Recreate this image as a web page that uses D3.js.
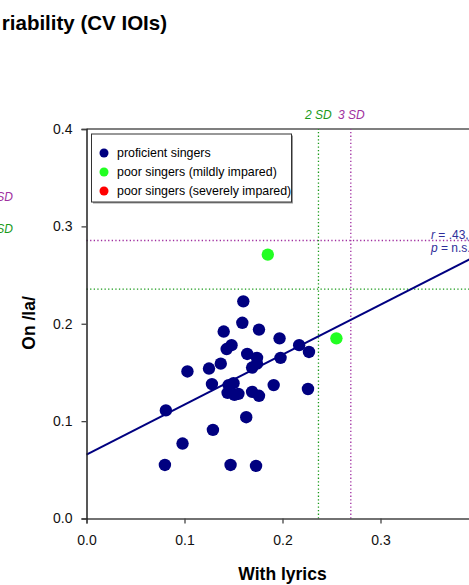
<!DOCTYPE html>
<html>
<head>
<meta charset="utf-8">
<script src="https://cdn.jsdelivr.net/npm/d3@7"></script>
<style>
    body { margin: 0; background: #fff; }
    svg { display: block; font-family: "Liberation Sans", Arial, sans-serif; }
</style>
</head>
<body>
<svg id="chart" width="469" height="585"></svg>
<script>
// proficient singers
const profX = [0.081, 0.080, 0.098, 0.103, 0.129, 0.125, 0.128, 0.137, 0.140, 0.143, 0.148, 0.145,
    0.150, 0.144, 0.151, 0.155, 0.147, 0.160, 0.159, 0.164, 0.163, 0.169, 0.176, 0.169, 0.174, 0.174,
    0.176, 0.173, 0.191, 0.197, 0.198, 0.217, 0.227, 0.226];
const profY = [0.111, 0.055, 0.077, 0.151, 0.091, 0.154, 0.138, 0.159, 0.192, 0.174, 0.178, 0.137,
    0.139, 0.129, 0.127, 0.128, 0.055, 0.223, 0.201, 0.169, 0.104, 0.130, 0.126, 0.155, 0.165, 0.159,
    0.194, 0.054, 0.137, 0.185, 0.165, 0.178, 0.171, 0.133];
// poor singers, mildly impared
const mildX = [0.185, 0.255];
const mildY = [0.271, 0.185];
// poor singers, severely impared (none shown in this panel)
const severeX = [];
const severeY = [];

const fitX = [0.0, 0.4];
const fitY = [0.0656, 0.2708];
const sd2 = { x: 0.2367, y: 0.2355 };
const sd3 = { x: 0.2697, y: 0.2855 };

const xTicks = [0.0, 0.1, 0.2, 0.3, 0.4];
const yTicks = [0.0, 0.1, 0.2, 0.3, 0.4];
const legendLabels = ['proficient singers', 'poor singers (mildly impared)', 'poor singers (severely impared)'];
const legendColors = ['#000080', '#22ff22', '#ff0000'];

const svg = d3.select('#chart');
const x = d3.scaleLinear().domain([0, 0.4]).range([86.5, 478.5]);
const y = d3.scaleLinear().domain([0, 0.4]).range([518.5, 129]);

const purple = '#a030a0';
const green = '#1a9a1a';

// title (cut off at left like the original)
svg.append('text')
    .attr('x', 167).attr('y', 30)
    .attr('text-anchor', 'end')
    .attr('font-size', 20.5).attr('font-weight', 'bold')
    .text('riability (CV IOIs)');

// top frame
svg.append('line')
    .attr('x1', x(0)).attr('x2', x(0.4))
    .attr('y1', y(0.4)).attr('y2', y(0.4))
    .attr('stroke', '#000').attr('stroke-width', 1.2);

// reference lines
function hline(v, color) {
    svg.append('line')
        .attr('x1', x(0)).attr('x2', x(0.4))
        .attr('y1', y(v)).attr('y2', y(v))
        .attr('stroke', color).attr('stroke-width', 1.3)
        .attr('stroke-dasharray', '1.3,2.3');
}
function vline(v, color) {
    svg.append('line')
        .attr('x1', x(v)).attr('x2', x(v))
        .attr('y1', y(0)).attr('y2', y(0.4))
        .attr('stroke', color).attr('stroke-width', 1.3)
        .attr('stroke-dasharray', '1.3,2.3');
}
hline(sd3.y, purple);
hline(sd2.y, green);
vline(sd2.x, green);
vline(sd3.x, purple);

// SD labels
svg.append('text').attr('x', 305).attr('y', 119).attr('font-size', 12).attr('font-style', 'italic')
    .attr('fill', green).text('2 SD');
svg.append('text').attr('x', 338).attr('y', 119).attr('font-size', 12).attr('font-style', 'italic')
    .attr('fill', purple).text('3 SD');
svg.append('text').attr('x', 13).attr('y', 201).attr('text-anchor', 'end').attr('font-size', 12)
    .attr('font-style', 'italic').attr('fill', purple).text('3 SD');
svg.append('text').attr('x', 13).attr('y', 232.5).attr('text-anchor', 'end').attr('font-size', 12)
    .attr('font-style', 'italic').attr('fill', green).text('2 SD');

// regression line
const line = d3.line().x(d => x(d[0])).y(d => y(d[1]));
svg.append('path')
    .datum(d3.zip(fitX, fitY))
    .attr('d', line)
    .attr('fill', 'none')
    .attr('stroke', '#000080')
    .attr('stroke-width', 2);

// points
function dots(xs, ys, color) {
    svg.append('g').selectAll('circle')
        .data(d3.zip(xs, ys))
        .join('circle')
        .attr('cx', d => x(d[0]))
        .attr('cy', d => y(d[1]))
        .attr('r', 6.2)
        .attr('fill', color);
}
dots(profX, profY, legendColors[0]);
dots(mildX, mildY, legendColors[1]);
dots(severeX, severeY, legendColors[2]);

// axes
const xAxis = svg.append('g')
    .attr('transform', `translate(0,${y(0)})`)
    .call(d3.axisBottom(x).tickValues(xTicks).tickFormat(d3.format('.1f')).tickSize(5).tickPadding(12));
xAxis.select('.domain').attr('stroke', '#444').attr('stroke-width', 1.5);
xAxis.selectAll('.tick line').attr('stroke', '#444').attr('stroke-width', 1.3);
xAxis.selectAll('text').attr('font-size', 14).attr('fill', '#111').attr('font-family', '"Liberation Sans", Arial, sans-serif');

const yAxis = svg.append('g')
    .attr('transform', `translate(${x(0)},0)`)
    .call(d3.axisLeft(y).tickValues(yTicks).tickFormat(d3.format('.1f')).tickSize(5).tickPadding(9));
yAxis.select('.domain').attr('stroke', '#222').attr('stroke-width', 1.5);
yAxis.selectAll('.tick line').attr('stroke', '#444').attr('stroke-width', 1.3);
yAxis.selectAll('text').attr('font-size', 14).attr('fill', '#111').attr('font-family', '"Liberation Sans", Arial, sans-serif');

// axis titles
svg.append('text')
    .attr('x', (x(0) + x(0.4)) / 2).attr('y', 580)
    .attr('text-anchor', 'middle')
    .attr('font-size', 17.5).attr('font-weight', 'bold')
    .text('With lyrics');
svg.append('text')
    .attr('transform', 'translate(35,323) rotate(-90)')
    .attr('text-anchor', 'middle')
    .attr('font-size', 17.5).attr('font-weight', 'bold')
    .text('On /la/');

// stats
const stat1 = svg.append('text').attr('x', 431).attr('y', 239).attr('font-size', 12).attr('fill', '#2e2e9a');
stat1.append('tspan').attr('font-style', 'italic').text('r');
stat1.append('tspan').text(' = .43,');
const stat2 = svg.append('text').attr('x', 431).attr('y', 252).attr('font-size', 12).attr('fill', '#2e2e9a');
stat2.append('tspan').attr('font-style', 'italic').text('p');
stat2.append('tspan').text(' = n.s.');

// legend
const legend = svg.append('g');
legend.append('rect')
    .attr('x', 93).attr('y', 135.5).attr('width', 200).attr('height', 68)
    .attr('fill', '#999');
legend.append('rect')
    .attr('x', 91.5).attr('y', 134).attr('width', 200).attr('height', 68)
    .attr('fill', '#fff').attr('stroke', '#333').attr('stroke-width', 1);
legendLabels.forEach((label, i) => {
    const cy = 153 + i * 19;
    legend.append('circle').attr('cx', 104).attr('cy', cy).attr('r', 4.5).attr('fill', legendColors[i]);
    legend.append('text').attr('x', 117).attr('y', cy + 4).attr('font-size', 12.4).text(label);
});
</script>
</body>
</html>
